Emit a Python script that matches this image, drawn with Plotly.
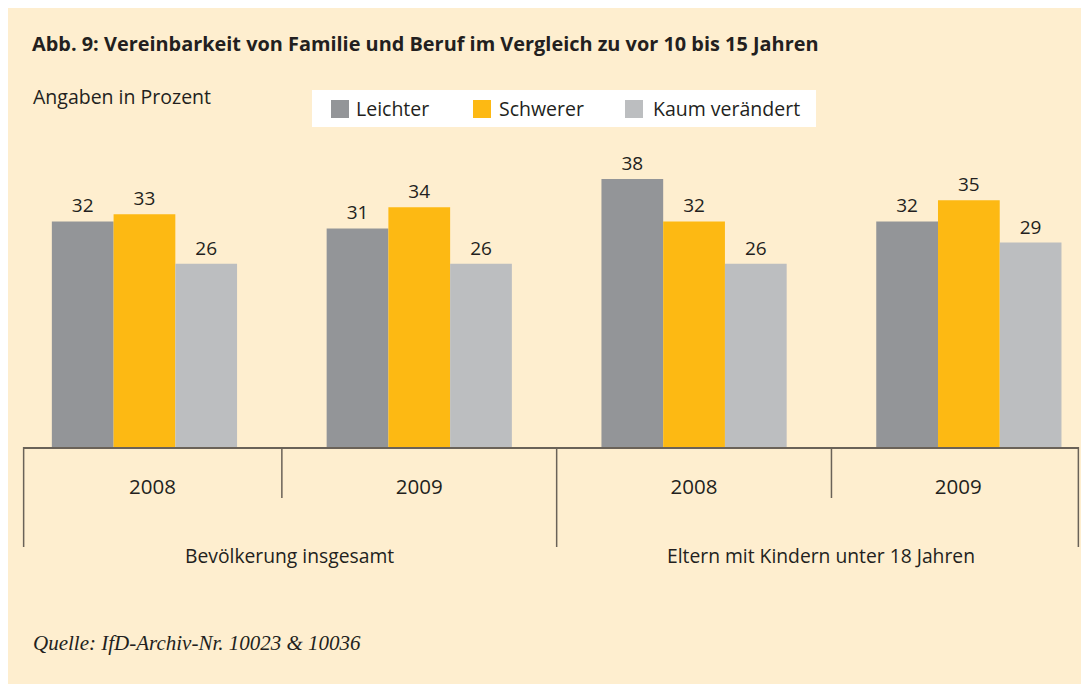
import plotly.graph_objects as go

# ---- data ----
years = ["2008", "2009", "2008", "2009"]
groups = ["Bevölkerung insgesamt", "Eltern mit Kindern unter 18 Jahren"]
series_names = ["Leichter", "Schwerer", "Kaum verändert"]
leichter = [32, 31, 38, 32]
schwerer = [33, 34, 32, 35]
kaum = [26, 26, 26, 29]

title_text = "Abb. 9: Vereinbarkeit von Familie und Beruf im Vergleich zu vor 10 bis 15 Jahren"
unit_text = "Angaben in Prozent"
source_text = "Quelle: IfD-Archiv-Nr. 10023 &amp; 10036"

# ---- style ----
W, H = 1089, 684
OFF = 8  # page body margin
BG = "#FEEECF"
TXT = "#231F20"
LINE = "#6A6258"
colors = ["#939598", "#FDB913", "#BCBEC0"]
FONT = "Open Sans"

# plot area in page pixels
PL, PR, PT, PB = 23, 1079, 138, 447
UNIT_PX = 274.8
xr = [-0.442, -0.442 + (PR - PL) / UNIT_PX]
yr = [0, (PB - PT) / 7.05]


def py(Y):  # page pixel y -> paper y
    return (PB - Y) / (PB - PT)


def px(X):  # page pixel x -> paper x
    return (X - PL) / (PR - PL)


def xd2p(v):  # data x -> paper x
    return (v - xr[0]) / (xr[1] - xr[0])


xpos = list(range(len(years)))
fig = go.Figure()
for name, vals, col in zip(series_names, [leichter, schwerer, kaum], colors):
    fig.add_trace(go.Bar(
        x=xpos, y=vals, name=name, marker=dict(color=col, line=dict(width=0)),
        text=[str(v) for v in vals], textposition="outside", cliponaxis=False,
        textfont=dict(family=FONT, size=19, color=TXT), showlegend=False,
    ))

# boundaries between groups (outer ones end where the reference lines end)
right_edge = xr[0] + (1085 - PL) / UNIT_PX
bounds = [xr[0], 0.5, 1.5, 2.5, right_edge]
tickvals = [(bounds[i] + bounds[i + 1]) / 2 for i in range(4)]

shapes = []
for i, b in enumerate(bounds):
    long = i in (0, 2, 4)
    xp = xd2p(b)
    if i == 0:
        xp += 0.0006
    elif i == 4:
        xp = 1 - 0.0006
    shapes.append(dict(type="line", xref="paper", yref="paper", x0=xp, x1=xp,
                       y0=0, y1=py(547 if long else 498),
                       line=dict(color=LINE, width=1.5)))

# legend box (drawn manually to match the reference layout)
shapes.append(dict(type="rect", xref="paper", yref="paper", x0=px(312), x1=px(816),
                   y0=py(127), y1=py(90), fillcolor="white", line=dict(width=0)))
leg_sq_x = [331, 473, 625]
leg_txt_x = [354, 497, 651]
annotations = []
for name, col, sx, tx in zip(series_names, colors, leg_sq_x, leg_txt_x):
    shapes.append(dict(type="rect", xref="paper", yref="paper", x0=px(sx), x1=px(sx + 18),
                       y0=py(118), y1=py(100), fillcolor=col, line=dict(width=0)))
    annotations.append(dict(text=name, xref="paper", yref="paper", x=px(tx), y=py(108),
                            xanchor="left", yanchor="middle", showarrow=False,
                            font=dict(family=FONT, size=19.5, color=TXT)))

annotations += [
    dict(text=unit_text, xref="paper", yref="paper", x=px(31), y=py(97),
         xanchor="left", yanchor="middle", showarrow=False,
         font=dict(family=FONT, size=19.5, color=TXT)),
    dict(text=source_text, xref="paper", yref="paper", x=px(31), y=py(643),
         xanchor="left", yanchor="middle", showarrow=False,
         font=dict(family="Liberation Serif", size=21, color=TXT, style="italic")),
]
for gi, g in enumerate(groups):
    annotations.append(dict(text=g, xref="x", yref="paper",
                            x=(bounds[gi * 2] + bounds[gi * 2 + 2]) / 2, y=py(555),
                            xanchor="center", yanchor="middle", showarrow=False,
                            font=dict(family=FONT, size=19.3, color=TXT)))

fig.update_layout(
    width=W, height=H,
    margin=dict(l=PL - OFF, r=W - (PR - OFF), t=PT - OFF, b=H - (PB - OFF), pad=0),
    paper_bgcolor=BG, plot_bgcolor="rgba(0,0,0,0)",
    barmode="group", bargap=0.326, bargroupgap=0,
    title=dict(text="<b>" + title_text + "</b>", xref="container", yref="container",
               x=(32 - OFF) / W, y=1 - (44 - OFF) / H, xanchor="left", yanchor="middle",
               font=dict(family=FONT, size=19.9, color=TXT)),
    xaxis=dict(range=xr, tickvals=tickvals, ticktext=years, showgrid=False, zeroline=False,
               showline=True, linecolor=LINE, linewidth=1.5, ticks="",
               tickfont=dict(family=FONT, size=20.5, color=TXT), ticklabelstandoff=21),
    yaxis=dict(range=yr, visible=False, showgrid=False, zeroline=False),
    showlegend=False,
    shapes=shapes, annotations=annotations,
)

fig.write_html("out.html")
